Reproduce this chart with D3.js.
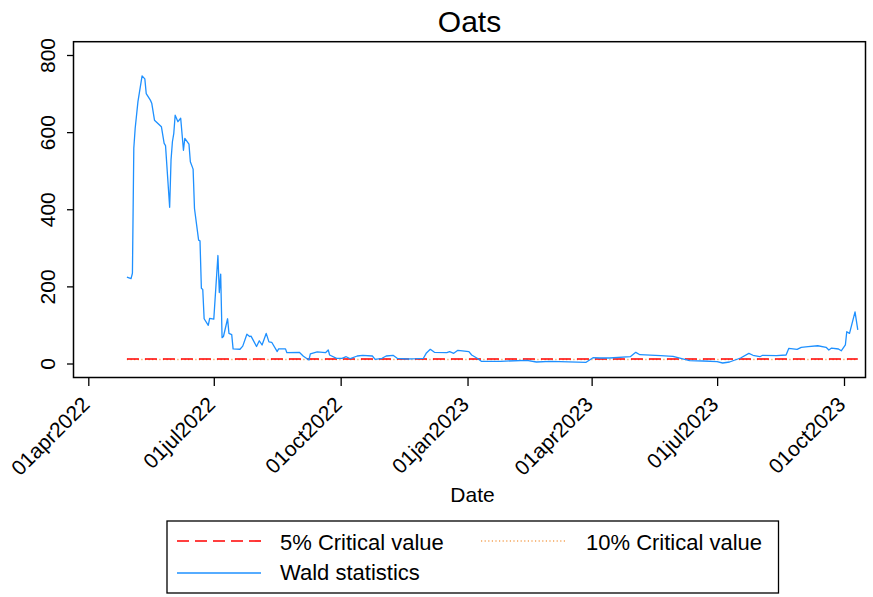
<!DOCTYPE html>
<html>
<head>
<meta charset="utf-8">
<script src="https://cdn.jsdelivr.net/npm/d3@7"></script>
<style>
  body { margin: 0; background: #fff; }
  text { font-family: "Liberation Sans", Arial, sans-serif; fill: #000; }
</style>
</head>
<body>
<div id="my_dataviz"></div>
<script>
// series
var dates = [
  "2022-04-29","2022-05-02","2022-05-03","2022-05-04","2022-05-05","2022-05-07","2022-05-10","2022-05-12","2022-05-13","2022-05-16",
  "2022-05-17","2022-05-19","2022-05-24","2022-05-26","2022-05-27","2022-05-30","2022-05-31","2022-06-01","2022-06-02","2022-06-03",
  "2022-06-05","2022-06-07","2022-06-09","2022-06-10","2022-06-13","2022-06-14","2022-06-16","2022-06-17","2022-06-20","2022-06-21",
  "2022-06-22","2022-06-23","2022-06-24","2022-06-27","2022-06-28","2022-07-01","2022-07-04","2022-07-05","2022-07-06","2022-07-07",
  "2022-07-08","2022-07-11","2022-07-12","2022-07-14","2022-07-15","2022-07-20","2022-07-22","2022-07-25","2022-07-27","2022-07-28",
  "2022-08-01","2022-08-03","2022-08-05","2022-08-08","2022-08-10","2022-08-12","2022-08-16","2022-08-17","2022-08-22","2022-08-23",
  "2022-09-01","2022-09-04","2022-09-08","2022-09-09","2022-09-14","2022-09-20","2022-09-22","2022-09-23","2022-09-28","2022-10-02",
  "2022-10-05","2022-10-08","2022-10-13","2022-10-17","2022-10-24","2022-10-26","2022-10-31","2022-11-03","2022-11-08","2022-11-11",
  "2022-11-18","2022-11-25","2022-11-30","2022-12-02","2022-12-05","2022-12-08","2022-12-17","2022-12-19","2022-12-22","2022-12-25",
  "2023-01-02","2023-01-04","2023-01-08","2023-01-11","2023-01-25","2023-02-13","2023-02-20","2023-03-02","2023-03-09","2023-03-28",
  "2023-04-02","2023-04-07","2023-04-14","2023-04-29","2023-05-03","2023-05-06","2023-05-21","2023-05-30","2023-06-11","2023-06-21",
  "2023-07-01","2023-07-05","2023-07-10","2023-07-18","2023-07-24","2023-07-27","2023-08-01","2023-08-03","2023-08-13","2023-08-20",
  "2023-08-22","2023-08-28","2023-08-31","2023-09-05","2023-09-12","2023-09-18","2023-09-20","2023-09-22","2023-09-27","2023-09-29",
  "2023-10-02","2023-10-03","2023-10-05","2023-10-09","2023-10-11"
];
var wald = [
  224,220,234,558,610,679,746,738,700,683,
  675,631,614,571,565,405,528,575,597,644,
  627,636,553,584,569,523,504,402,320,318,
  195,192,116,99,117,115,280,184,232,67,
  70,116,78,75,38,37,45,76,70,71,
  44,59,48,78,56,55,31,38,38,28,
  29,19,9,25,30,28,35,22,13.5,13.5,
  17.6,12.4,19.4,21.3,19.4,10.9,13.5,19.4,21.3,13.5,
  11.7,12.4,13.5,26.4,36.8,29,28,30.6,26.4,34.2,
  30.6,22,13.5,5.7,5.7,8.3,3.9,5.7,4.7,3.1,
  15,14.3,14.3,17.6,29,22.8,20.2,18.7,7.3,6.5,
  4.7,1.3,3.9,14.3,26.4,21.3,17.6,21.3,20.2,22,
  39.4,36.8,42,43.6,46,42,35,40,37.6,33,
  48,82.4,78,134,87
];
var crit5 = 11.7;
var crit10 = 10.5;

var xTickDates = ["2022-04-01","2022-07-01","2022-10-01","2023-01-01","2023-04-01","2023-07-01","2023-10-01"];
var xTickLabels = ["01apr2022","01jul2022","01oct2022","01jan2023","01apr2023","01jul2023","01oct2023"];
var yTicks = [0, 200, 400, 600, 800];

var W = 873, H = 597;
var plot = {left: 73.5, top: 41.7, right: 865.5, bottom: 377.5};

var parse = d3.utcParse("%Y-%m-%d");
var series = dates.map(function(d, i) { return {date: parse(d), value: wald[i]}; });
var first = series[0].date, last = series[series.length - 1].date;

var svg = d3.select("#my_dataviz")
  .append("svg")
    .attr("width", W)
    .attr("height", H);

var x = d3.scaleUtc()
  .domain([parse(xTickDates[0]), parse(xTickDates[xTickDates.length - 1])])
  .range([88.3, 844]);

var y = d3.scaleLinear()
  .domain([0, 800])
  .range([363.5, 55]);

// title
svg.append("text")
  .attr("x", (plot.left + plot.right) / 2)
  .attr("y", 31.5)
  .attr("text-anchor", "middle")
  .style("font-size", "30px")
  .text("Oats");

// y axis
var yAxis = svg.append("g")
  .attr("transform", "translate(" + plot.left + ",0)")
  .call(d3.axisLeft(y).tickValues(yTicks).tickSize(6.5).tickFormat(d3.format("d")));
yAxis.select(".domain").remove();
yAxis.selectAll(".tick line").attr("stroke", "#000").attr("stroke-width", 1.3);
yAxis.selectAll(".tick text")
  .attr("x", 0).attr("y", -18.5).attr("dy", 0)
  .attr("transform", "rotate(-90)")
  .attr("text-anchor", "middle")
  .style("font-size", "21px")
  .style("font-family", "Liberation Sans, Arial, sans-serif");

// x axis
var xAxis = svg.append("g")
  .attr("transform", "translate(0," + plot.bottom + ")")
  .call(d3.axisBottom(x)
    .tickValues(xTickDates.map(parse))
    .tickSize(8.5)
    .tickFormat(function(d, i) { return xTickLabels[i]; }));
xAxis.select(".domain").remove();
xAxis.selectAll(".tick line").attr("stroke", "#000").attr("stroke-width", 1.3);
xAxis.selectAll(".tick text")
  .attr("x", 0).attr("y", 0).attr("dy", "0.35em")
  .attr("transform", "translate(-3,23) rotate(-45)")
  .attr("text-anchor", "end")
  .style("font-size", "21px")
  .style("font-family", "Liberation Sans, Arial, sans-serif");

svg.append("text")
  .attr("x", (plot.left + plot.right) / 2 + 3)
  .attr("y", 501.5)
  .attr("text-anchor", "middle")
  .style("font-size", "21px")
  .text("Date");

// critical values
var flat = d3.line()
  .x(function(d) { return x(d[0]); })
  .y(function(d) { return y(d[1]); });

svg.append("path")
  .datum([[first, crit10], [last, crit10]])
  .attr("d", flat)
  .attr("fill", "none")
  .attr("stroke", "#f5a55a")
  .attr("stroke-width", 1.4)
  .attr("stroke-dasharray", "1.2,2.4");

svg.append("path")
  .datum([[first, crit5], [last, crit5]])
  .attr("d", flat)
  .attr("fill", "none")
  .attr("stroke", "#ff0000")
  .attr("stroke-width", 1.6)
  .attr("stroke-dasharray", "12,6");

// wald statistics
svg.append("path")
  .datum(series)
  .attr("fill", "none")
  .attr("stroke", "#1e90ff")
  .attr("stroke-width", 1.3)
  .attr("stroke-linejoin", "round")
  .attr("d", d3.line()
    .x(function(d) { return x(d.date); })
    .y(function(d) { return y(d.value); }));

// frame
svg.append("rect")
  .attr("x", plot.left).attr("y", plot.top)
  .attr("width", plot.right - plot.left)
  .attr("height", plot.bottom - plot.top)
  .attr("fill", "none")
  .attr("stroke", "#000")
  .attr("stroke-width", 1.5);

// legend
var lg = svg.append("g");
lg.append("rect")
  .attr("x", 167).attr("y", 521)
  .attr("width", 611.5).attr("height", 72)
  .attr("fill", "none")
  .attr("stroke", "#000")
  .attr("stroke-width", 1.3);

var keys = [
  {label: "5% Critical value", color: "#ff0000", dash: "12,6", w: 1.6, kx: 177, tx: 280, ky: 541, ty: 550},
  {label: "10% Critical value", color: "#f5a55a", dash: "1.2,2.4", w: 1.4, kx: 481, tx: 586, ky: 541, ty: 550},
  {label: "Wald statistics", color: "#1e90ff", dash: null, w: 1.3, kx: 177, tx: 280, ky: 573, ty: 580}
];
keys.forEach(function(k) {
  lg.append("line")
    .attr("x1", k.kx).attr("x2", k.kx + 84)
    .attr("y1", k.ky).attr("y2", k.ky)
    .attr("stroke", k.color)
    .attr("stroke-width", k.w)
    .attr("stroke-dasharray", k.dash);
  lg.append("text")
    .attr("x", k.tx).attr("y", k.ty)
    .style("font-size", "22px")
    .text(k.label);
});
</script>
</body>
</html>
